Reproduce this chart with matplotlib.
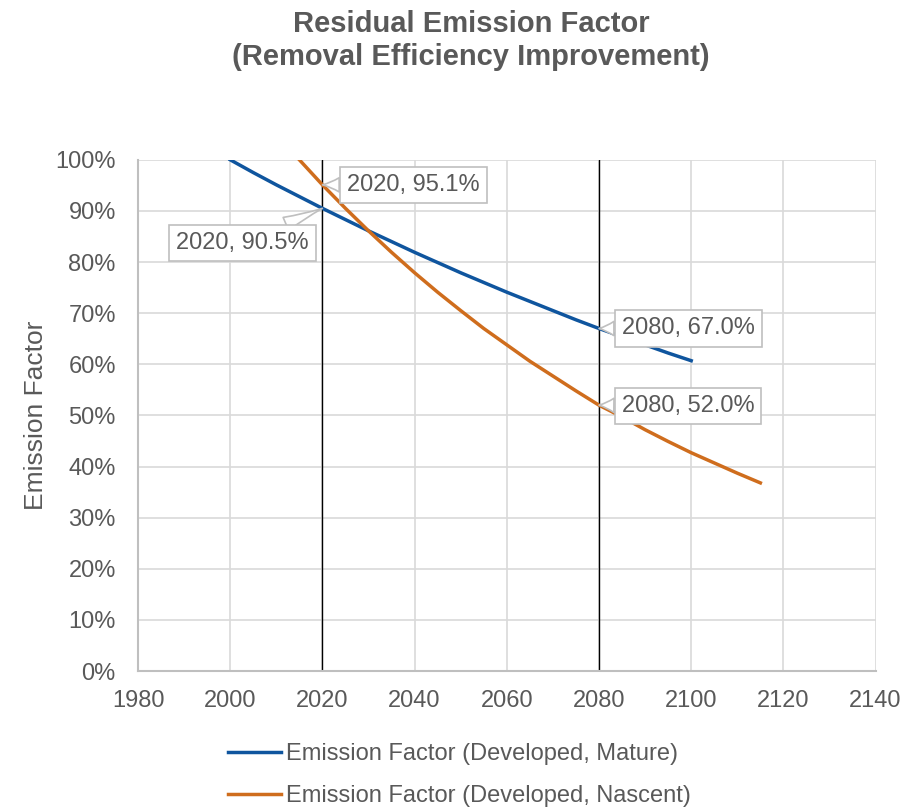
import numpy as np
import matplotlib.pyplot as plt
from matplotlib.ticker import PercentFormatter

plt.rcParams['font.family'] = ['Liberation Sans', 'DejaVu Sans']

# series values (fraction of original emission)
years_mature = [2000, 2005, 2010, 2015, 2020, 2025, 2030, 2035, 2040, 2045, 2050,
                2055, 2060, 2065, 2070, 2075, 2080, 2085, 2090, 2095, 2100]
ef_mature = [1.000, 0.975, 0.951, 0.928, 0.905, 0.883, 0.861, 0.840, 0.819, 0.799, 0.779,
             0.760, 0.741, 0.723, 0.705, 0.687, 0.670, 0.654, 0.638, 0.622, 0.607]

years_nascent = [2015, 2020, 2025, 2030, 2035, 2040, 2045, 2050, 2055, 2060, 2065,
                 2070, 2075, 2080, 2085, 2090, 2095, 2100, 2105, 2110, 2115]
ef_nascent = [1.000, 0.951, 0.905, 0.861, 0.819, 0.779, 0.741, 0.705, 0.670, 0.638, 0.606,
              0.577, 0.548, 0.520, 0.497, 0.472, 0.449, 0.427, 0.407, 0.387, 0.368]

marker_years = [2020, 2080]

blue = '#0f559e'
orange = '#cf6d1d'
txt = '#595959'

fig = plt.figure(figsize=(9.14, 8.07), dpi=100)
ax = fig.add_axes([0.151, 0.1685, 0.807, 0.6335])

ax.plot(years_mature, [v * 100 for v in ef_mature], color=blue, lw=2.5,
        label='Emission Factor (Developed, Mature)', zorder=3)
ax.plot(years_nascent, [v * 100 for v in ef_nascent], color=orange, lw=2.5,
        label='Emission Factor (Developed, Nascent)', zorder=3)

for yr in marker_years:
    ax.axvline(yr, color='black', lw=1, zorder=2)

ax.set_xlim(1980, 2140)
ax.set_ylim(0, 100)
ax.set_xticks(np.arange(1980, 2141, 20))
ax.set_yticks(np.arange(0, 101, 10))
ax.yaxis.set_major_formatter(PercentFormatter(decimals=0))
ax.grid(True, color='#d9d9d9', lw=1.2, zorder=0)
ax.set_axisbelow(True)
for s in ['top', 'right']:
    ax.spines[s].set_visible(False)
for s in ['left', 'bottom']:
    ax.spines[s].set_color('#bfbfbf')
    ax.spines[s].set_linewidth(1.5)
ax.tick_params(length=0, labelsize=17, colors=txt)
ax.tick_params(axis='y', pad=16)
ax.tick_params(axis='x', pad=14)
ax.set_ylabel('Emission Factor', fontsize=19, color=txt, labelpad=5)

# data callouts: (series years, values, year, text x, text y)
callouts = [
    (years_nascent, ef_nascent, 2020, 2025.3, 95.1),
    (years_mature, ef_mature, 2020, 1988.2, 83.8),
    (years_mature, ef_mature, 2080, 2084.9, 67.0),
    (years_nascent, ef_nascent, 2080, 2084.9, 51.8),
]
for ys, vals, yr, tx, ty in callouts:
    v = vals[ys.index(yr)] * 100
    ax.annotate(f'{yr}, {v:.1f}%', xy=(yr, v), xytext=(tx, ty),
                fontsize=17, color=txt, va='center', ha='left', zorder=5,
                bbox=dict(boxstyle='square,pad=0.3', fc='white', ec='#bfbfbf', lw=1.2),
                arrowprops=dict(arrowstyle='wedge,tail_width=0.6,shrink_factor=0.4',
                                fc='white', ec='#bfbfbf', lw=1.2, shrinkA=0, shrinkB=0))

fig.text(0.5153, 0.9603, 'Residual Emission Factor', ha='center', va='baseline',
         fontsize=21, fontweight='bold', color=txt)
fig.text(0.5153, 0.9195, '(Removal Efficiency Improvement)', ha='center', va='baseline',
         fontsize=21, fontweight='bold', color=txt)

leg = fig.legend(loc='upper left', bbox_to_anchor=(0.2495, 0.079), frameon=False,
                 fontsize=17, handlelength=2.25, handletextpad=0.2, labelspacing=0.85,
                 borderaxespad=0, borderpad=0)
for t in leg.get_texts():
    t.set_color(txt)

fig.savefig('out.png', dpi=100)
